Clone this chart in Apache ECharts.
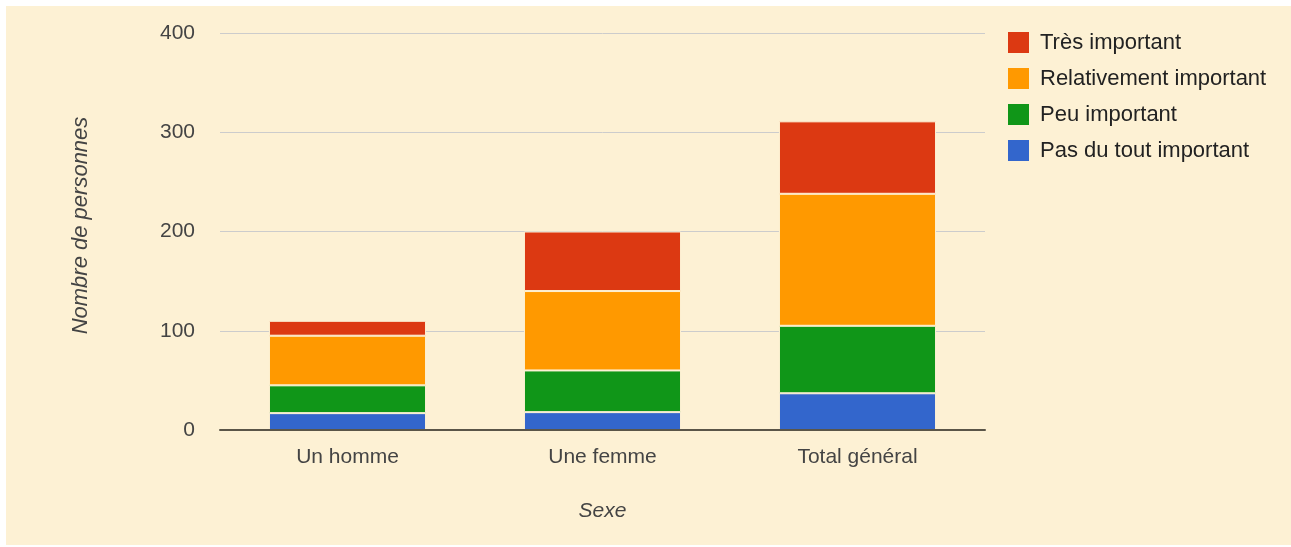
<!DOCTYPE html>
<html>
<head>
<meta charset="utf-8">
<script src="https://cdn.jsdelivr.net/npm/echarts@6/dist/echarts.min.js"></script>
<style>
html,body{margin:0;padding:0;background:#ffffff;}
#chart{position:absolute;left:6px;top:6px;width:1285px;height:539px;background:#fdf1d4;}
</style>
</head>
<body>
<div id="chart"></div>
<script>
var categories = ['Un homme', 'Une femme', 'Total général'];
var seriesNames = ['Pas du tout important', 'Peu important', 'Relativement important', 'Très important'];
var pasDuTout = [17, 18, 37];
var peu = [28, 42, 68];
var relativement = [50, 80, 133];
var tres = [15, 60, 73];
var colors = ['#3366cc', '#109618', '#ff9900', '#dc3912'];
var yTicks = [0, 100, 200, 300, 400];

var values = [pasDuTout, peu, relativement, tres];
var chart = echarts.init(document.getElementById('chart'), null, {renderer: 'canvas'});
var font = 'Liberation Sans, Arial, sans-serif';
var option = {
  backgroundColor: '#fdf1d4',
  textStyle: {fontFamily: font},
  grid: {left: 214, right: 306, top: 27, bottom: 115},
  legend: {
    orient: 'vertical',
    left: 1000,
    top: 24,
    padding: 0,
    itemWidth: 23,
    itemHeight: 23,
    itemGap: 11,
    icon: 'rect',
    data: seriesNames.slice().reverse(),
    textStyle: {fontSize: 22, color: '#222222', fontFamily: font, padding: [0, 0, 0, 5]}
  },
  xAxis: {
    type: 'category',
    data: categories,
    name: 'Sexe',
    nameLocation: 'middle',
    nameGap: 71,
    nameTextStyle: {fontSize: 21, fontStyle: 'italic', color: '#444444', fontFamily: font},
    axisTick: {show: false},
    axisLine: {lineStyle: {color: '#5a5548', width: 2}},
    axisLabel: {fontSize: 21, color: '#444444', margin: 17, fontFamily: font},
    z: 5
  },
  yAxis: {
    type: 'value',
    min: yTicks[0],
    max: yTicks[yTicks.length - 1],
    interval: 100,
    name: 'Nombre de personnes',
    nameLocation: 'middle',
    nameGap: 128,
    nameTextStyle: {fontSize: 22, fontStyle: 'italic', color: '#444444', fontFamily: font, padding: [0, 0, 0, 12]},
    axisLine: {show: false},
    axisTick: {show: false},
    axisLabel: {fontSize: 21, color: '#444444', margin: 25, fontFamily: font},
    splitLine: {lineStyle: {color: '#cccccc', width: 1}}
  },
  series: seriesNames.map(function (n, i) {
    return {
      name: n,
      type: 'bar',
      stack: 'total',
      barWidth: '61.6%',
      data: values[i],
      itemStyle: {color: colors[i], borderColor: '#fdf1d4', borderWidth: 1},
      emphasis: {disabled: true}
    };
  }),
  animation: false
};
chart.setOption(option);
</script>
</body>
</html>
